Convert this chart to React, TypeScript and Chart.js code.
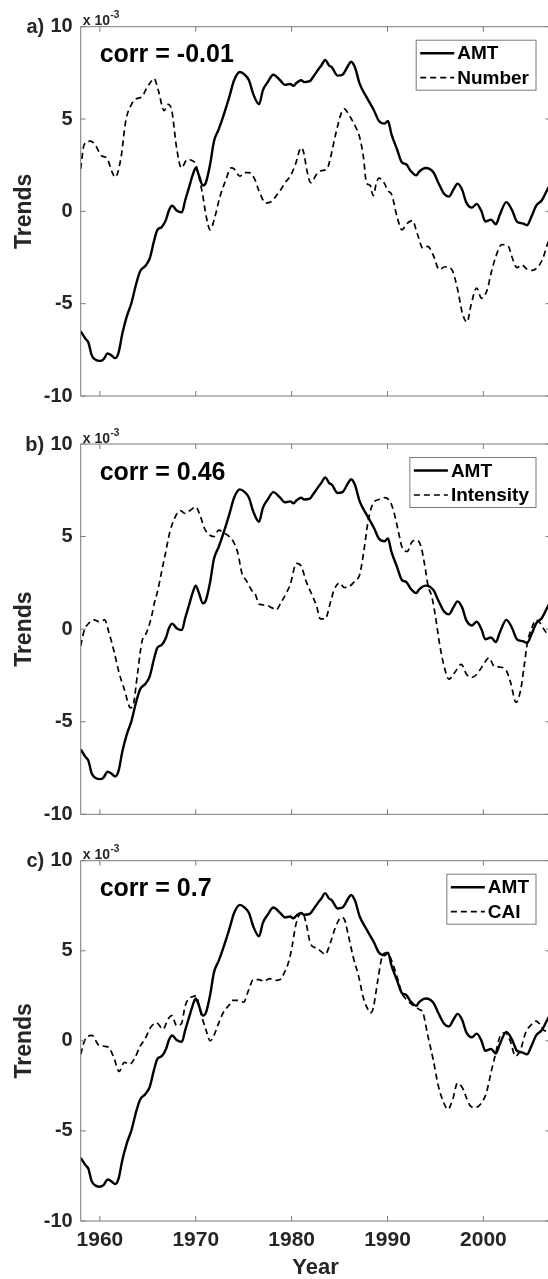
import React, { useEffect, useRef } from 'react';
import { Chart, registerables } from 'chart.js';

Chart.register(...registerables);

// ---------------- data (values in units of 1e-3) ----------------
const X_TICKS = [1960, 1970, 1980, 1990, 2000];
const Y_TICKS = [-10, -5, 0, 5, 10];
const X_MIN = 1958;
const X_MAX = 2007;

const AMT_YEARS = [
  1958.0, 1958.5, 1958.8, 1959.15, 1959.6, 1960.0, 1960.4, 1960.8, 1961.2, 1961.6,
  1961.95, 1962.35, 1962.8, 1963.3, 1963.75, 1964.2, 1964.75, 1965.2, 1965.65, 1966.0,
  1966.45, 1966.9, 1967.2, 1967.55, 1968.0, 1968.55, 1968.9, 1969.3, 1969.7, 1970.0,
  1970.3, 1970.75, 1971.05, 1971.5, 1971.9, 1972.4, 1972.9, 1973.5, 1974.0, 1974.6,
  1975.1, 1975.55, 1976.0, 1976.6, 1977.0, 1977.5, 1978.1, 1978.8, 1979.3, 1979.85,
  1980.2, 1980.5, 1981.0, 1981.3, 1981.9, 1982.2, 1982.8, 1983.1, 1983.5, 1983.9,
  1984.2, 1984.8, 1985.3, 1985.9, 1986.2, 1986.6, 1987.1, 1987.8, 1988.6, 1989.1,
  1989.7, 1990.05, 1990.4, 1991.0, 1991.5, 1991.95, 1992.4, 1993.0, 1993.3, 1994.0,
  1994.8, 1995.3, 1995.9, 1996.4, 1996.9, 1997.3, 1997.8, 1998.2, 1998.8, 1999.3,
  1999.8, 2000.2, 2000.8, 2001.3, 2001.7, 2002.4, 2003.0, 2003.5, 2004.1, 2004.55,
  2005.0, 2005.5, 2006.1, 2006.6, 2007.0,
];
const AMT_VALUES = [
  -6.5, -6.9, -7.1, -7.8, -8.05, -8.1, -8.0, -7.7, -7.8, -7.95,
  -7.65, -6.6, -5.7, -4.95, -4.0, -3.25, -2.95, -2.55, -1.6, -1.0,
  -0.85, -0.45, 0.05, 0.3, 0.05, -0.05, 0.6, 1.3, 2.0, 2.35,
  2.0, 1.4, 1.55, 2.55, 3.8, 4.45, 5.2, 6.2, 7.1, 7.55,
  7.4, 7.1, 6.35, 5.8, 6.55, 7.0, 7.4, 7.1, 6.85, 6.9,
  6.8, 6.95, 7.1, 7.0, 7.05, 7.25, 7.7, 7.9, 8.2, 7.9,
  7.8, 7.35, 7.4, 7.9, 8.1, 7.8, 6.9, 6.2, 5.45, 4.9,
  4.75, 4.9, 4.2, 3.35, 2.65, 2.55, 2.2, 1.95, 2.15, 2.35,
  2.1, 1.55, 0.95, 0.8, 1.2, 1.5, 1.15, 0.5, 0.2, 0.4,
  0.0, -0.55, -0.45, -0.7, -0.2, 0.5, 0.05, -0.55, -0.65, -0.75,
  -0.3, 0.3, 0.6, 1.1, 1.5,
];

const NUMBER_YEARS = [
  1958.0, 1958.35, 1959.0, 1959.45, 1960.2, 1960.7, 1961.3, 1961.6, 1962.2, 1962.7,
  1963.3, 1963.8, 1964.4, 1964.8, 1965.3, 1965.65, 1966.1, 1966.7, 1967.1, 1967.5,
  1968.0, 1968.5, 1969.1, 1969.6, 1970.0, 1970.7, 1971.1, 1971.5, 1972.0, 1972.5,
  1973.1, 1973.7, 1974.0, 1974.6, 1975.1, 1975.55, 1976.1, 1976.6, 1977.3, 1977.95,
  1978.4, 1978.9, 1979.3, 1979.85, 1980.4, 1981.0, 1981.25, 1981.6, 1982.0, 1982.6,
  1983.1, 1983.7, 1984.05, 1984.6, 1985.2, 1985.5, 1986.0, 1986.6, 1987.1, 1987.5,
  1987.8, 1988.2, 1988.5, 1988.85, 1989.1, 1989.7, 1990.05, 1990.4, 1991.0, 1991.5,
  1992.05, 1992.6, 1993.1, 1993.7, 1994.2, 1994.75, 1995.4, 1996.0, 1996.7, 1997.3,
  1997.8, 1998.3, 1998.7, 1999.3, 1999.8, 2000.4, 2000.8, 2001.3, 2001.9, 2002.6,
  2003.0, 2003.5, 2004.0, 2004.6, 2005.1, 2005.7, 2006.2, 2006.7, 2007.0,
];
const NUMBER_VALUES = [
  2.3, 3.6, 3.8, 3.65, 3.0, 2.9, 2.1, 1.85, 2.9, 4.9,
  5.8, 6.1, 6.2, 6.6, 7.0, 7.2, 6.55, 5.45, 5.8, 5.45,
  3.45, 2.35, 2.8, 2.75, 2.55, 0.95, -0.3, -1.0, -0.3, 0.75,
  1.65, 2.35, 2.3, 1.9, 2.1, 2.1, 1.8, 1.1, 0.45, 0.55,
  0.85, 1.2, 1.55, 1.9, 2.55, 3.45, 3.2, 2.2, 1.55, 2.0,
  2.2, 2.3, 2.9, 4.2, 5.35, 5.55, 5.2, 4.65, 4.0, 2.9,
  1.55, 1.4, 0.85, 1.55, 1.8, 1.5, 1.1, 0.95, -0.3, -1.0,
  -0.65, -0.5, -1.2, -2.0, -1.9, -2.35, -3.15, -3.0, -3.15, -4.2,
  -5.5, -6.0, -5.1, -4.15, -4.7, -4.25, -3.35, -2.45, -1.8, -1.9,
  -2.5, -3.05, -2.9, -3.15, -3.2, -3.0, -2.55, -1.75, -1.4,
];

const INTENSITY_YEARS = [
  1958.0, 1958.35, 1958.9, 1959.4, 1959.9, 1960.5, 1960.9, 1961.5, 1962.0, 1962.55,
  1963.2, 1963.5, 1963.9, 1964.4, 1964.85, 1965.35, 1965.7, 1966.0, 1966.4, 1966.8,
  1967.3, 1967.8, 1968.4, 1968.9, 1969.5, 1970.0, 1970.45, 1970.9, 1971.4, 1971.9,
  1972.4, 1972.9, 1973.5, 1974.0, 1974.4, 1974.8, 1975.3, 1975.9, 1976.2, 1976.6,
  1977.3, 1977.95, 1978.4, 1978.9, 1979.5, 1979.85, 1980.5, 1981.0, 1981.5, 1982.0,
  1982.6, 1983.0, 1983.5, 1984.05, 1984.45, 1985.0, 1985.5, 1986.0, 1986.6, 1987.1,
  1987.5, 1988.0, 1988.5, 1989.1, 1989.7, 1990.2, 1990.6, 1991.1, 1991.5, 1992.05,
  1992.6, 1993.1, 1993.5, 1993.9, 1994.25, 1994.6, 1995.0, 1995.4, 1995.9, 1996.4,
  1997.0, 1997.7, 1998.25, 1998.8, 1999.3, 1999.9, 2000.6, 2001.1, 2001.7, 2002.4,
  2002.85, 2003.4, 2003.9, 2004.25, 2004.6, 2005.0, 2005.5, 2005.9, 2006.3, 2006.6,
  2007.0,
];
const INTENSITY_VALUES = [
  -0.9, -0.1, 0.35, 0.5, 0.4, 0.5, -0.1, -1.25, -2.35, -3.25,
  -4.25, -4.05, -2.5, -0.65, -0.2, 0.6, 1.45, 2.0, 3.0, 4.0,
  5.25, 6.0, 6.4, 6.25, 6.45, 6.6, 6.15, 5.45, 5.1, 5.0,
  5.35, 5.2, 5.0, 4.65, 4.1, 3.05, 2.6, 2.05, 1.9, 1.35,
  1.3, 1.15, 1.05, 1.45, 2.0, 2.4, 3.55, 3.4, 2.6, 2.0,
  1.25, 0.55, 0.55, 1.45, 2.15, 2.5, 2.25, 2.3, 2.6, 2.95,
  4.1, 5.9, 6.8, 7.0, 7.1, 6.95, 6.45, 5.35, 4.45, 4.2,
  4.75, 4.8, 4.45, 3.4, 2.3, 1.8, 0.7, -0.7, -2.0, -2.7,
  -2.35, -1.9, -2.45, -2.6, -2.45, -2.0, -1.55, -2.0, -2.05, -2.25,
  -2.9, -3.95, -3.25, -2.0, -0.7, 0.0, 0.5, 0.35, 0.0, -0.2,
  -0.25,
];

const CAI_YEARS = [
  1958.0, 1958.4, 1959.2, 1959.8, 1960.4, 1960.9, 1961.5, 1962.0, 1962.55, 1963.1,
  1963.6, 1964.2, 1964.7, 1965.3, 1965.9, 1966.6, 1967.1, 1967.5, 1968.0, 1968.5,
  1968.9, 1969.3, 1969.65, 1970.0, 1970.6, 1971.1, 1971.5, 1971.9, 1972.4, 1972.9,
  1973.5, 1973.8, 1974.4, 1975.0, 1975.5, 1976.0, 1976.6, 1977.1, 1977.7, 1978.2,
  1978.8, 1979.3, 1979.7, 1980.05, 1980.4, 1980.8, 1981.15, 1981.5, 1982.0, 1982.6,
  1983.1, 1983.5, 1984.05, 1984.6, 1985.2, 1985.5, 1985.9, 1986.4, 1987.0, 1987.5,
  1988.0, 1988.2, 1988.5, 1989.0, 1989.45, 1989.9, 1990.4, 1991.0, 1991.5, 1992.05,
  1992.6, 1993.3, 1993.7, 1994.2, 1994.75, 1995.3, 1995.8, 1996.3, 1996.8, 1997.3,
  1997.8, 1998.3, 1998.7, 1999.2, 1999.8, 2000.3, 2000.8, 2001.3, 2001.7, 2002.3,
  2002.8, 2003.35, 2003.9, 2004.4, 2005.0, 2005.5, 2006.0, 2006.4, 2007.0,
];
const CAI_VALUES = [
  -0.75, 0.0, 0.3, -0.2, -0.3, -0.35, -1.0, -1.7, -1.2, -1.3,
  -1.0, -0.3, 0.1, 0.75, 1.0, 0.65, 1.2, 1.4, 0.85, 0.95,
  1.95, 2.35, 2.45, 2.5, 1.4, 0.55, 0.0, 0.3, 1.0, 1.6,
  2.0, 2.25, 2.25, 2.15, 2.8, 3.4, 3.4, 3.3, 3.45, 3.35,
  3.4, 3.85, 4.4, 5.25, 6.35, 7.0, 7.1, 6.55, 5.35, 5.15,
  4.95, 4.8, 5.45, 6.35, 6.85, 6.75, 5.9, 4.7, 3.55, 2.35,
  1.7, 1.55, 1.8, 3.4, 4.7, 4.9, 4.5, 3.55, 2.65, 2.25,
  2.0, 1.75, 1.55, 0.3, -1.0, -2.5, -3.35, -3.8, -3.25, -2.35,
  -2.6, -3.25, -3.65, -3.7, -3.45, -2.9, -1.75, -0.65, 0.2, 0.45,
  0.0, -0.85, -0.45, 0.45, 0.9, 1.1, 0.85, 0.55, 1.0,
];

const PANEL_LETTERS = ['a)', 'b)', 'c)'];
const CORR_TEXTS = ['corr = -0.01', 'corr = 0.46', 'corr = 0.7'];
const MAIN_NAME = 'AMT';
const SERIES_NAMES = ['Number', 'Intensity', 'CAI'];
const SERIES_YEARS = [NUMBER_YEARS, INTENSITY_YEARS, CAI_YEARS];
const SERIES_VALUES = [NUMBER_VALUES, INTENSITY_VALUES, CAI_VALUES];

// ---------------- layout / style ----------------
const FONT = "'Liberation Sans', Arial, Helvetica, sans-serif";
const TEXT_COLOR = '#262626';
const AXIS_COLOR = '#7a7a7a';
const CANVAS_W = 560;
const PLOT_LEFT = 80.7;
const PLOT_RIGHT = 550.5;
const SOLID_W = 2.4;
const DASH_W = 1.7;
const DASH = [6, 4];

const PANELS = [
  { canvasTop: 0, canvasH: 420, plotTop: 26.7, plotBottom: 396, showX: false },
  { canvasTop: 420, canvasH: 420, plotTop: 444, plotBottom: 814.3, showX: false },
  { canvasTop: 840, canvasH: 442, plotTop: 860.7, plotBottom: 1221, showX: true },
];

const decorPlugin = {
  id: 'matlabDecor',
  afterDatasetsDraw(chart: any, _args: any, opts: any) {
    const { ctx, chartArea } = chart;
    const { left, right, top, bottom } = chartArea;
    const xs = chart.scales.x;
    const ys = chart.scales.y;
    ctx.save();

    // box + inward ticks
    ctx.strokeStyle = AXIS_COLOR;
    ctx.lineWidth = 1;
    ctx.setLineDash([]);
    ctx.beginPath();
    ctx.rect(left, top, right - left, bottom - top);
    const TL = 5;
    X_TICKS.forEach((v) => {
      const p = xs.getPixelForValue(v);
      ctx.moveTo(p, bottom);
      ctx.lineTo(p, bottom - TL);
      ctx.moveTo(p, top);
      ctx.lineTo(p, top + TL);
    });
    Y_TICKS.forEach((v) => {
      const p = ys.getPixelForValue(v);
      ctx.moveTo(left, p);
      ctx.lineTo(left + TL, p);
      ctx.moveTo(right, p);
      ctx.lineTo(right - TL, p);
    });
    ctx.stroke();

    // correlation text
    ctx.fillStyle = '#000';
    ctx.font = `bold 25px ${FONT}`;
    ctx.textAlign = 'left';
    ctx.textBaseline = 'alphabetic';
    ctx.fillText(opts.corr, left + 19, top + 35.5);

    // legend
    ctx.font = `bold 19px ${FONT}`;
    const labels: string[] = opts.labels;
    const tw = Math.max(...labels.map((l) => ctx.measureText(l).width));
    const bw = 4 + 34 + 3 + tw + 7;
    const bh = 50;
    const bx = right - 14.5 - bw;
    const by = top + 13.5;
    ctx.fillStyle = '#fff';
    ctx.fillRect(bx, by, bw, bh);
    ctx.strokeStyle = AXIS_COLOR;
    ctx.lineWidth = 1;
    ctx.strokeRect(bx, by, bw, bh);
    const rows = [by + 13, by + 37.5];
    labels.forEach((l, i) => {
      ctx.beginPath();
      ctx.strokeStyle = '#000';
      ctx.lineWidth = i === 0 ? SOLID_W : DASH_W;
      ctx.setLineDash(i === 0 ? [] : DASH);
      ctx.moveTo(bx + 4, rows[i]);
      ctx.lineTo(bx + 38, rows[i]);
      ctx.stroke();
      ctx.setLineDash([]);
      ctx.fillStyle = '#000';
      ctx.textBaseline = 'middle';
      ctx.textAlign = 'left';
      ctx.fillText(l, bx + 41, rows[i] + 1);
    });

    // panel letter
    ctx.fillStyle = TEXT_COLOR;
    ctx.font = `bold 20px ${FONT}`;
    ctx.textAlign = 'right';
    ctx.textBaseline = 'middle';
    ctx.fillText(opts.letter, left - 36.5, top + 1);

    // exponent label
    ctx.textAlign = 'left';
    ctx.textBaseline = 'alphabetic';
    ctx.font = `bold 14px ${FONT}`;
    const base = 'x 10';
    ctx.fillText(base, left + 2, top - 1.5);
    const bwid = ctx.measureText(base).width;
    ctx.font = `bold 10px ${FONT}`;
    ctx.fillText('-3', left + 2 + bwid + 0.5, top - 8.5);

    ctx.restore();
  },
};

const toPts = (xs: number[], ys: number[]) => xs.map((x, i) => ({ x, y: ys[i] }));

export default function App() {
  const refs = useRef<(HTMLCanvasElement | null)[]>([]);

  useEffect(() => {
    const charts: Chart[] = [];
    PANELS.forEach((p, i) => {
      const canvas = refs.current[i];
      if (!canvas) return;
      const padTop = p.plotTop - p.canvasTop;
      const xAxisH = p.canvasTop + p.canvasH - p.plotBottom;
      const chart = new Chart(canvas, {
        type: 'line',
        data: {
          datasets: [
            {
              label: MAIN_NAME,
              data: toPts(AMT_YEARS, AMT_VALUES),
              borderColor: '#000',
              borderWidth: SOLID_W,
              pointRadius: 0,
              cubicInterpolationMode: 'monotone',
              fill: false,
            },
            {
              label: SERIES_NAMES[i],
              data: toPts(SERIES_YEARS[i], SERIES_VALUES[i]),
              borderColor: '#000',
              borderWidth: DASH_W,
              borderDash: DASH,
              pointRadius: 0,
              cubicInterpolationMode: 'monotone',
              fill: false,
            },
          ],
        },
        options: {
          animation: false,
          responsive: false,
          devicePixelRatio: 1,
          events: [],
          layout: { padding: { top: padTop, right: CANVAS_W - PLOT_RIGHT, left: 0, bottom: 0 } },
          plugins: {
            legend: { display: false },
            tooltip: { enabled: false },
            matlabDecor: {
              corr: CORR_TEXTS[i],
              labels: [MAIN_NAME, SERIES_NAMES[i]],
              letter: PANEL_LETTERS[i],
            },
          } as any,
          scales: {
            x: {
              type: 'linear',
              min: X_MIN,
              max: X_MAX,
              grid: { display: false, drawTicks: false, tickLength: 0 },
              border: { display: false },
              ticks: {
                display: p.showX,
                font: { family: FONT, size: 21, weight: 'bold' },
                color: TEXT_COLOR,
                padding: 7,
                maxRotation: 0,
                autoSkip: false,
                callback: (v: any) => String(v),
              },
              afterBuildTicks: (s: any) => {
                s.ticks = X_TICKS.map((value) => ({ value }));
              },
              afterFit: (s: any) => {
                s.height = xAxisH;
              },
              title: {
                display: p.showX,
                text: 'Year',
                font: { family: FONT, size: 22, weight: 'bold' },
                color: TEXT_COLOR,
                padding: { top: 0, bottom: 0.8 },
              },
            },
            y: {
              type: 'linear',
              min: -10,
              max: 10,
              grid: { display: false, drawTicks: false, tickLength: 0 },
              border: { display: false },
              ticks: {
                font: { family: FONT, size: 20, weight: 'bold' },
                color: TEXT_COLOR,
                padding: 8,
                autoSkip: false,
                callback: (v: any) => String(v),
              },
              afterBuildTicks: (s: any) => {
                s.ticks = Y_TICKS.map((value) => ({ value }));
              },
              afterFit: (s: any) => {
                s.width = PLOT_LEFT;
              },
              title: {
                display: true,
                text: 'Trends',
                font: { family: FONT, size: 23, weight: 'bold' },
                color: TEXT_COLOR,
                padding: { top: 11, bottom: 0 },
              },
            },
          },
        } as any,
        plugins: [decorPlugin],
      });
      charts.push(chart);
    });
    return () => charts.forEach((c) => c.destroy());
  }, []);

  return (
    <div
      style={{
        position: 'fixed',
        left: 0,
        top: 0,
        width: 548,
        height: 1279,
        overflow: 'hidden',
        background: '#fff',
      }}
    >
      {PANELS.map((p, i) => (
        <canvas
          key={i}
          ref={(el) => {
            refs.current[i] = el;
          }}
          width={CANVAS_W}
          height={p.canvasH}
          style={{
            position: 'absolute',
            left: 0,
            top: p.canvasTop,
            width: CANVAS_W,
            height: p.canvasH,
          }}
        />
      ))}
    </div>
  );
}
